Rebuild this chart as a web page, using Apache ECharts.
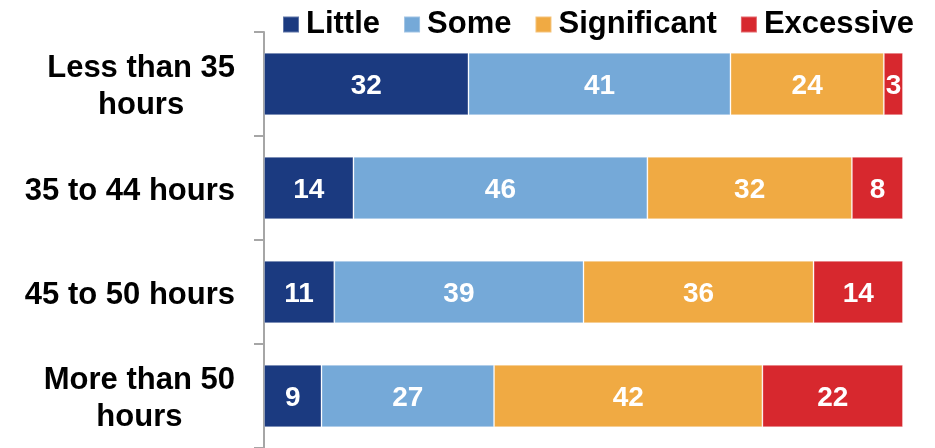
<!DOCTYPE html>
<html>
<head>
<meta charset="utf-8">
<script src="https://cdn.jsdelivr.net/npm/echarts@6/dist/echarts.min.js"></script>
<style>html,body{margin:0;padding:0;background:#fff;}#c{width:935px;height:448px;}</style>
</head>
<body>
<div id="c"></div>
<script>
const categories = ['Less than 35\nhours', '35 to 44 hours', '45 to 50 hours', 'More than 50\nhours'];
const seriesNames = ['Little', 'Some', 'Significant', 'Excessive'];
const little = [32, 14, 11, 9];
const some = [41, 46, 39, 27];
const significant = [24, 32, 36, 42];
const excessive = [3, 8, 14, 22];
const colors = ['#1B3A80', '#75A9D8', '#F0AA43', '#D7282E'];

const FONT = "'Liberation Sans', Arial, sans-serif";
const values = [little, some, significant, excessive];

const chart = echarts.init(document.getElementById('c'), null, {renderer: 'canvas'});
chart.setOption({
  animation: false,
  backgroundColor: '#fff',
  legend: {
    top: 4,
    left: 277,
    itemWidth: 16,
    itemHeight: 16,
    itemGap: 23,
    icon: 'rect',
    textStyle: {fontFamily: FONT, fontSize: 31, fontWeight: 'bold', color: '#000', padding: [5, 0, 0, 2]},
    data: seriesNames
  },
  grid: {left: 264, right: 32, top: 32, height: 420, containLabel: false},
  xAxis: {type: 'value', min: 0, max: 100, show: false},
  yAxis: {
    type: 'category',
    inverse: true,
    data: categories,
    axisLine: {show: true, lineStyle: {color: '#A6A6A6', width: 2}},
    axisTick: {show: true, length: 10, lineStyle: {color: '#A6A6A6', width: 2}},
    axisLabel: {
      margin: 29,
      padding: [6, 0, 0, 0],
      formatter: function (v) {
        return v.split('\n').map(s => '{a|' + s + '}').join('\n');
      },
      rich: {
        a: {fontFamily: FONT, fontSize: 31, fontWeight: 'bold', color: '#000', align: 'center', lineHeight: 37}
      }
    }
  },
  series: seriesNames.map((name, i) => ({
    name: name,
    type: 'bar',
    stack: 'total',
    barWidth: '60%',
    data: values[i],
    itemStyle: {color: colors[i], borderColor: 'rgba(255,255,255,0.3)', borderWidth: 1},
    label: {
      show: true,
      position: 'inside',
      offset: [0, 2],
      color: '#fff',
      fontFamily: FONT,
      fontSize: 28,
      fontWeight: 'bold'
    }
  }))
});
</script>
</body>
</html>
